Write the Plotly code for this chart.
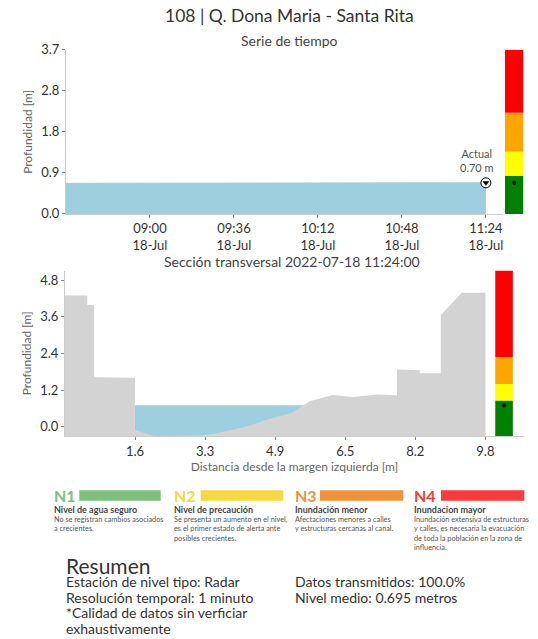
import plotly.graph_objects as go

W, H = 538, 639
FONT = "Lato"

# ---------------- data ----------------
times = ["2022-07-18 08:24", "2022-07-18 08:36", "2022-07-18 08:48", "2022-07-18 09:00",
         "2022-07-18 09:12", "2022-07-18 09:24", "2022-07-18 09:36", "2022-07-18 09:48",
         "2022-07-18 10:00", "2022-07-18 10:12", "2022-07-18 10:24", "2022-07-18 10:36",
         "2022-07-18 10:48", "2022-07-18 11:00", "2022-07-18 11:12", "2022-07-18 11:24"]
levels = [0.69, 0.69, 0.69, 0.70, 0.69, 0.70, 0.70, 0.69,
          0.70, 0.69, 0.69, 0.70, 0.70, 0.69, 0.70, 0.70]
current_level = 0.70
current_time = "2022-07-18 11:24"

time_ticks = ["2022-07-18 09:00", "2022-07-18 09:36", "2022-07-18 10:12",
              "2022-07-18 10:48", "2022-07-18 11:24"]
time_labels = ["09:00<br>18-Jul", "09:36<br>18-Jul", "10:12<br>18-Jul",
               "10:48<br>18-Jul", "11:24<br>18-Jul"]
ts_yticks = [0.0, 0.925, 1.85, 2.775, 3.7]
ts_ylabels = ["0.0", "0.9", "1.8", "2.8", "3.7"]

# cross-section terrain profile (distance [m], elevation [m])
sec_x = [0.0, 0.0, 0.52, 0.52, 0.68, 0.68, 1.63, 1.63, 2.11, 3.27, 3.75, 4.23, 4.72,
         5.28, 5.52, 5.72, 6.24, 6.72, 7.29, 7.74, 7.74, 8.27, 8.27, 8.76, 8.76,
         9.25, 9.80, 9.80]
sec_y = [-1.0, 4.30, 4.30, 3.99, 3.99, 1.62, 1.60, -0.11, -0.32, -0.28, -0.15, 0.0, 0.23,
         0.45, 0.67, 0.84, 1.04, 0.97, 1.05, 1.03, 1.87, 1.85, 1.75, 1.75, 3.66,
         4.39, 4.39, -1.0]
water_x = [1.63, 6.0]
sec_xticks = [1.633, 3.267, 4.9, 6.533, 8.167, 9.8]
sec_xlabels = ["1.6", "3.3", "4.9", "6.5", "8.2", "9.8"]
sec_yticks = [0.0, 1.2, 2.4, 3.6, 4.8]
sec_ylabels = ["0.0", "1.2", "2.4", "3.6", "4.8"]

# alert levels
alert_colors = ["#008000", "#ffff00", "#ffa500", "#ff0000"]
ts_alert_base = [0.0, 0.86, 1.40, 2.28]
ts_alert_top = [0.86, 1.40, 2.28, 3.7]
sec_alert_base = [-0.31, 0.86, 1.40, 2.28]
sec_alert_top = [0.86, 1.40, 2.28, 5.12]

legend_names = ["N1", "N2", "N3", "N4"]
legend_colors = ["#7cc27c", "#f8d840", "#f0923a", "#f93b3b"]
legend_titles = ["Nivel de agua seguro", "Nivel de precaución", "Inundación menor", "Inundacion mayor"]
legend_texts = [
    "No se registran cambios asociados<br>a crecientes.",
    "Se presenta un aumento en el nivel,<br>es el primer estado de alerta ante<br>posibles crecientes.",
    "Afectaciones menores a calles<br>y estructuras cercanas al canal.",
    "Inundación extensiva de estructuras<br>y calles, es necesaria la evacuación<br>de toda la población en la zona de<br>influencia.",
]
summary_left = ["Estación de nivel tipo: Radar", "Resolución temporal: 1 minuto",
                "*Calidad de datos sin verficiar", "exhaustivamente"]
summary_right = ["Datos transmitidos: 100.0%", "Nivel medio: 0.695 metros"]


def fx(p):
    return p / W


def fy(p):
    # vertical pixel position (from top) -> paper fraction, with empirical correction
    q = (p - 8.2) / 0.976
    return 1 - q / H


WATER = "#9dcfdf"
GROUND = "#d3d3d3"
AX = "#cccccc"
TXT = "#333333"

fig = go.Figure()

# time series
fig.add_trace(go.Scatter(x=times, y=levels, mode="lines", fill="tozeroy",
                         line=dict(color=WATER, width=1), fillcolor=WATER,
                         xaxis="x", yaxis="y", hoverinfo="skip"))
fig.add_trace(go.Scatter(x=[current_time], y=[current_level], mode="markers",
                         marker=dict(symbol="circle", size=10, color="white",
                                     line=dict(color="black", width=1)),
                         xaxis="x", yaxis="y"))
fig.add_trace(go.Scatter(x=[current_time], y=[current_level], mode="markers",
                         marker=dict(symbol="triangle-down", size=6, color="black"),
                         xaxis="x", yaxis="y"))
# alert bar top
fig.add_trace(go.Bar(x=[0.5] * 4, y=[t - b for t, b in zip(ts_alert_top, ts_alert_base)],
                     base=ts_alert_base, width=1, marker=dict(color=alert_colors, line=dict(width=0)),
                     xaxis="x3", yaxis="y"))
fig.add_trace(go.Scatter(x=[0.5], y=[current_level], mode="markers",
                         marker=dict(size=4, color="black"), xaxis="x3", yaxis="y"))

# cross section
fig.add_trace(go.Scatter(x=[water_x[0], water_x[1], water_x[1], water_x[0], water_x[0]],
                         y=[current_level, current_level, -1, -1, current_level],
                         mode="lines", fill="toself", fillcolor=WATER, line=dict(width=0),
                         xaxis="x2", yaxis="y2"))
fig.add_trace(go.Scatter(x=sec_x, y=sec_y, mode="lines", fill="toself", fillcolor=GROUND,
                         line=dict(width=0), xaxis="x2", yaxis="y2"))
fig.add_trace(go.Bar(x=[10.235] * 4, y=[t - b for t, b in zip(sec_alert_top, sec_alert_base)],
                     base=sec_alert_base, width=0.41, marker=dict(color=alert_colors, line=dict(width=0)),
                     xaxis="x2", yaxis="y2"))
fig.add_trace(go.Scatter(x=[10.235], y=[current_level], mode="markers",
                         marker=dict(size=4, color="black"), xaxis="x2", yaxis="y2"))

tickfont = dict(family=FONT, size=13, color=TXT)
axcommon = dict(showgrid=False, zeroline=False, showline=True, linecolor=AX, linewidth=1,
                ticks="outside", ticklen=3, tickcolor="#888888", tickfont=tickfont)

fig.update_layout(
    width=W, height=H, margin=dict(l=0, r=0, t=0, b=0),
    paper_bgcolor="white", plot_bgcolor="white", showlegend=False, barmode="overlay",
    font=dict(family=FONT, color=TXT),
    xaxis=dict(domain=[fx(66), fx(503)], anchor="y", type="date",
               range=["2022-07-18 08:24", "2022-07-18 11:31:20"],
               tickvals=time_ticks, ticktext=time_labels, **axcommon),
    yaxis=dict(domain=[fy(214.3), fy(50)], anchor="x", range=[0, 3.7],
               tickvals=ts_yticks, ticktext=ts_ylabels,
               title=dict(text="Profundidad [m]", font=dict(family=FONT, size=12, color="#666666"),
                          standoff=6), **axcommon),
    xaxis3=dict(domain=[fx(505), fx(523.5)], anchor="y", range=[0, 1], visible=False),
    xaxis2=dict(domain=[fx(65), fx(524)], anchor="y2", range=[0, 10.7],
                tickvals=sec_xticks, ticktext=sec_xlabels,
                title=dict(text="Distancia desde la margen izquierda [m]",
                           font=dict(family=FONT, size=12, color="#666666"), standoff=4),
                **axcommon),
    yaxis2=dict(domain=[fy(436.7), fy(271)], anchor="x2", range=[-0.31, 5.12],
                tickvals=sec_yticks, ticktext=sec_ylabels,
                title=dict(text="Profundidad [m]", font=dict(family=FONT, size=12, color="#666666"),
                           standoff=6), **axcommon),
)

ann = []
ann.append(dict(text="108 | Q. Dona Maria - Santa Rita", x=fx(289), y=fy(15.5), xref="paper", yref="paper",
                showarrow=False, font=dict(family=FONT, size=17.5, color=TXT), xanchor="center", yanchor="middle"))
ann.append(dict(text="Serie de tiempo", x=fx(289), y=fy(40.5), xref="paper", yref="paper",
                showarrow=False, font=dict(family=FONT, size=14, color="#444444"), xanchor="center", yanchor="middle"))
ann.append(dict(text="Sección transversal 2022-07-18 11:24:00", x=fx(292), y=fy(262), xref="paper", yref="paper",
                showarrow=False, font=dict(family=FONT, size=14, color="#444444"), xanchor="center", yanchor="middle"))
ann.append(dict(text="Actual<br>0.70 m", x=current_time, y=current_level, xref="x", yref="y",
                showarrow=False, xshift=-9, yshift=22, font=dict(family=FONT, size=11, color="#555555"),
                xanchor="center", yanchor="middle"))

# alert legend
leg_x = [52.7, 173.3, 294, 413.3]
bar_x0 = [79.3, 200.7, 320, 441]
bar_x1 = [160.7, 283.3, 403.3, 524.3]
shapes = []
for i in range(4):
    ann.append(dict(text="<b>%s</b>" % legend_names[i], x=fx(leg_x[i]), y=fy(496.5), xref="paper", yref="paper",
                    showarrow=False, font=dict(family=FONT, size=16, color=legend_colors[i]),
                    xanchor="left", yanchor="middle", borderpad=0))
    shapes.append(dict(type="rect", xref="paper", yref="paper", x0=fx(bar_x0[i]), x1=fx(bar_x1[i]),
                       y0=fy(501.5), y1=fy(491), fillcolor=legend_colors[i], line=dict(width=0)))
    ann.append(dict(text="<b>%s</b>" % legend_titles[i], x=fx(leg_x[i]), y=fy(510.5), xref="paper", yref="paper",
                    showarrow=False, font=dict(family=FONT, size=9, color="#444444"),
                    xanchor="left", yanchor="middle", borderpad=0))
    ann.append(dict(text=legend_texts[i], x=fx(leg_x[i]), y=fy(514.5), xref="paper", yref="paper",
                    showarrow=False, font=dict(family=FONT, size=7.3, color="#555555"),
                    xanchor="left", yanchor="top", align="left", borderpad=0))

ann.append(dict(text="Resumen", x=fx(65), y=fy(566), xref="paper", yref="paper", showarrow=False,
                font=dict(family=FONT, size=21, color=TXT), xanchor="left", yanchor="middle", borderpad=0))
for i, t in enumerate(summary_left):
    ann.append(dict(text=t, x=fx(65), y=fy(582.3 + i * 15.6), xref="paper", yref="paper", showarrow=False,
                    font=dict(family=FONT, size=14, color=TXT), xanchor="left", yanchor="middle", borderpad=0))
for i, t in enumerate(summary_right):
    ann.append(dict(text=t, x=fx(294), y=fy(582.3 + i * 15.6), xref="paper", yref="paper", showarrow=False,
                    font=dict(family=FONT, size=14, color=TXT), xanchor="left", yanchor="middle", borderpad=0))

fig.update_layout(annotations=ann, shapes=shapes)
fig.write_html("out.html", config={"displayModeBar": False},
               post_script="document.body.style.margin='0';document.body.style.overflow='hidden';")
